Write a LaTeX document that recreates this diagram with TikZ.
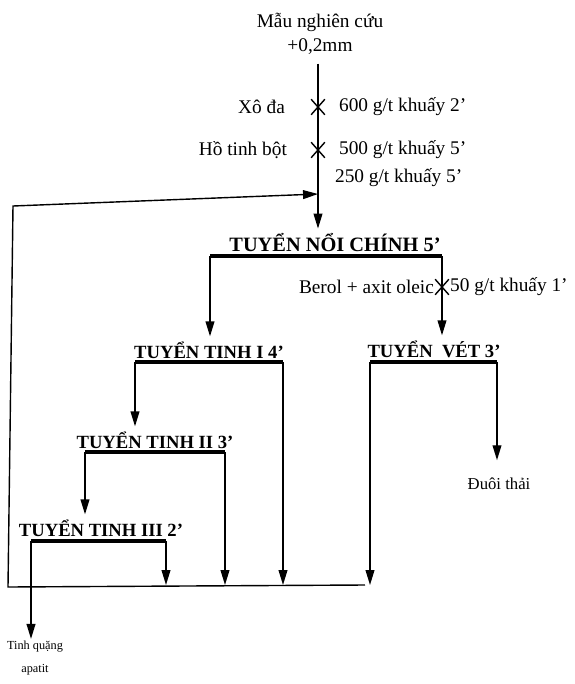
\documentclass[tikz,border=0pt]{standalone}
\usepackage{fontspec}
\setmainfont{Liberation Serif}
\usetikzlibrary{arrows.meta,shapes.misc}

\begin{document}
\begin{tikzpicture}[x=0.02cm, y=-0.02cm,
  txt/.style={font=\fontsize{11}{13.6}\selectfont, inner sep=1pt},
  head/.style={font=\fontsize{10.6}{13}\selectfont\bfseries, inner sep=1pt, outer sep=2pt},
  bar/.style={line width=2.2pt},
  arr/.style={line width=0.8pt, -{Triangle[length=8.5pt,width=5pt]}},
  xmark/.style={cross out, draw, line width=0.8pt, minimum width=7pt, minimum height=8pt, inner sep=0pt}
]
\useasboundingbox (0,0) rectangle (575,684);
% sample and reagents
\node[txt, align=center] (mau) at (320,34) {Mẫu nghiên cứu\\+0,2mm};
\node[xmark] (xoda) at (318,107) {};
\node[xmark] (hotb) at (318,150) {};
\node[txt, anchor=east] (l1) at (287,107) {Xô đa};
\node[txt, anchor=west] (r1) at (337,107) {600 g/t khuấy 2'};
\node[txt, anchor=east] (l2) at (289,150) {Hồ tinh bột};
\node[txt, anchor=west] (r2) at (337,150) {500 g/t khuấy 5'};
\node[txt, anchor=west] (r3) at (333,178) {250 g/t khuấy 5'};
% flotation stages
\node[head, font=\fontsize{11.6}{13}\selectfont\bfseries] (chinh) at (335,243) {TUYỂN NỔI CHÍNH 5'};
\coordinate (chinhL) at (210,256);
\coordinate (chinhR) at (442,256);
\node[xmark] (berx) at (442,287) {};
\node[txt, anchor=east] (ber) at (436,287) {Berol + axit oleic};
\node[txt, anchor=west] (berr) at (448,287) {50 g/t khuấy 1'};
\node[head] (tinh1) at (209,350) {TUYỂN TINH I 4'};
\coordinate (tinh1L) at (135,362);
\coordinate (tinh1R) at (283,362);
\node[head] (vet) at (434,349) {TUYỂN~~VÉT 3'};
\coordinate (vetL) at (370,362);
\coordinate (vetR) at (497,362);
\node[txt, font=\fontsize{9.5}{11}\selectfont] (duoi) at (499,484) {Đuôi thải};
\node[head] (tinh2) at (155,440) {TUYỂN TINH II 3'};
\coordinate (tinh2L) at (85,452);
\coordinate (tinh2R) at (225,452);
\node[head] (tinh3) at (101,528) {TUYỂN TINH III 2'};
\coordinate (tinh3L) at (31,541);
\coordinate (tinh3R) at (166,541);
\node[txt, font=\fontsize{7}{13}\selectfont, align=center] (tq) at (35,658) {Tinh quặng\\apatit};
% recycle line
\coordinate (bl) at (8,587);
\coordinate (br) at (365,585);
\coordinate (tl) at (13,206);
\coordinate (rin) at (318,194);

\draw[arr, shorten <=4pt] (mau.south -| xoda) -- (xoda |- chinh.north);
\draw[arr] (br) -- (bl) -- (tl) -- (rin);
\draw[bar] (chinhL) -- (chinhR);
\draw[arr] (chinhL) -- (chinhL |- tinh1.north);
\draw[arr] (chinhR) -- (chinhR |- vet.north);
\draw[bar] (tinh1L) -- (tinh1R);
\draw[arr] (tinh1L) -- (tinh1L |- tinh2.north);
\draw[arr] (tinh1R) -- (tinh1R |- br);
\draw[bar] (vetL) -- (vetR);
\draw[arr] (vetL) -- (vetL |- br);
\draw[arr, shorten >=9pt] (vetR) -- (vetR |- duoi.north);
\draw[bar] (tinh2L) -- (tinh2R);
\draw[arr] (tinh2L) -- (tinh2L |- tinh3.north);
\draw[arr] (tinh2R) -- (tinh2R |- br);
\draw[bar] (tinh3L) -- (tinh3R);
\draw[arr] (tinh3L) -- (tinh3L |- tq.north);
\draw[arr] (tinh3R) -- (tinh3R |- br);
\end{tikzpicture}
\end{document}
